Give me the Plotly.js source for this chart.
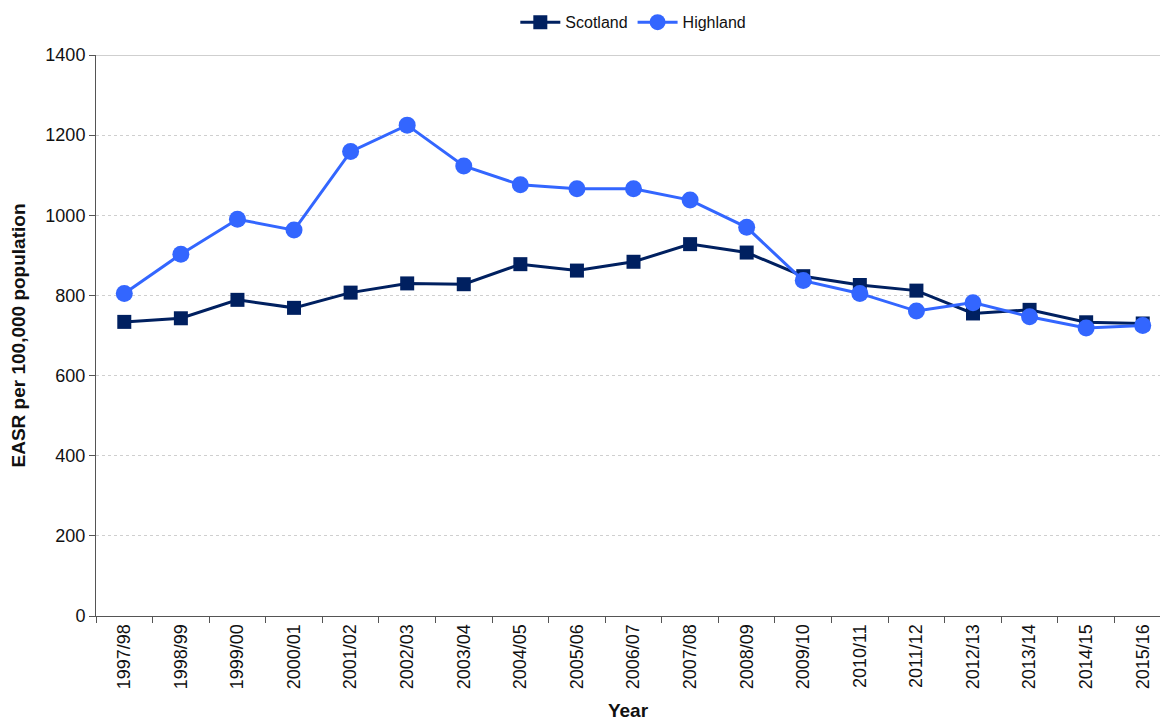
<!DOCTYPE html>
<html>
<head>
<meta charset="utf-8">
<script src="https://cdn.plot.ly/plotly-3.0.1.min.js"></script>
<style>html,body{margin:0;padding:0;background:#fff;}#chart{width:1160px;height:723px;}</style>
</head>
<body>
<div id="chart"></div>
<script>
const years = ["1997/98","1998/99","1999/00","2000/01","2001/02","2002/03","2003/04","2004/05","2005/06","2006/07","2007/08","2008/09","2009/10","2010/11","2011/12","2012/13","2013/14","2014/15","2015/16"];
const scotland = [734,743,789,769,807,830,828,878,862,884,928,907,848,826,812,755,764,733,730];
const highland = [805,903,990,963,1159,1225,1123,1076,1066,1066,1038,970,837,805,761,782,747,719,725];
const yTicks = [0,200,400,600,800,1000,1200,1400];

const traces = [
  {x: years, y: scotland, name: "Scotland", type: "scatter", mode: "lines+markers",
   line: {color: "#002060", width: 3}, marker: {symbol: "square", size: 14, color: "#002060"}},
  {x: years, y: highland, name: "Highland", type: "scatter", mode: "lines+markers",
   line: {color: "#3366FF", width: 3}, marker: {symbol: "circle", size: 17, color: "#3366FF"}}
];

const layout = {
  width: 1160, height: 723,
  margin: {l: 96, r: 0, t: 55, b: 107},
  paper_bgcolor: "#fff", plot_bgcolor: "#fff",
  font: {family: "Liberation Sans, Arial, sans-serif", color: "#111", size: 16},
  showlegend: true,
  legend: {orientation: "h", x: 0.505, xanchor: "center", y: 1.028, yanchor: "bottom",
           font: {size: 16}, itemwidth: 40, traceorder: "normal"},
  xaxis: {
    type: "category", range: [-0.5, 18.305], autorange: false,
    tickangle: -90, tickson: "boundaries", ticks: "outside", ticklen: 6, tickcolor: "#555",
    showline: true, linecolor: "#555", linewidth: 1, showgrid: false, zeroline: false,
    tickfont: {size: 18},
    title: {text: "Year", font: {size: 19, weight: "bold"}, standoff: 15}
  },
  yaxis: {
    range: [0, 1400], autorange: false, tickvals: yTicks,
    ticks: "outside", ticklen: 6, tickcolor: "#555",
    showline: true, linecolor: "#555", linewidth: 1,
    showgrid: true, gridcolor: "#cfcfcf", griddash: "dot", gridwidth: 1, zeroline: false,
    tickfont: {size: 18},
    title: {text: "EASR per 100,000 population", font: {size: 19, weight: "bold"}, standoff: 14}
  },
  shapes: [
    {type: "line", xref: "paper", yref: "y", x0: 0, x1: 1, y0: 1400, y1: 1400,
     line: {color: "#a0a0a0", width: 1}}
  ]
};

Plotly.newPlot("chart", traces, layout, {displayModeBar: false, staticPlot: true});
</script>
</body>
</html>
